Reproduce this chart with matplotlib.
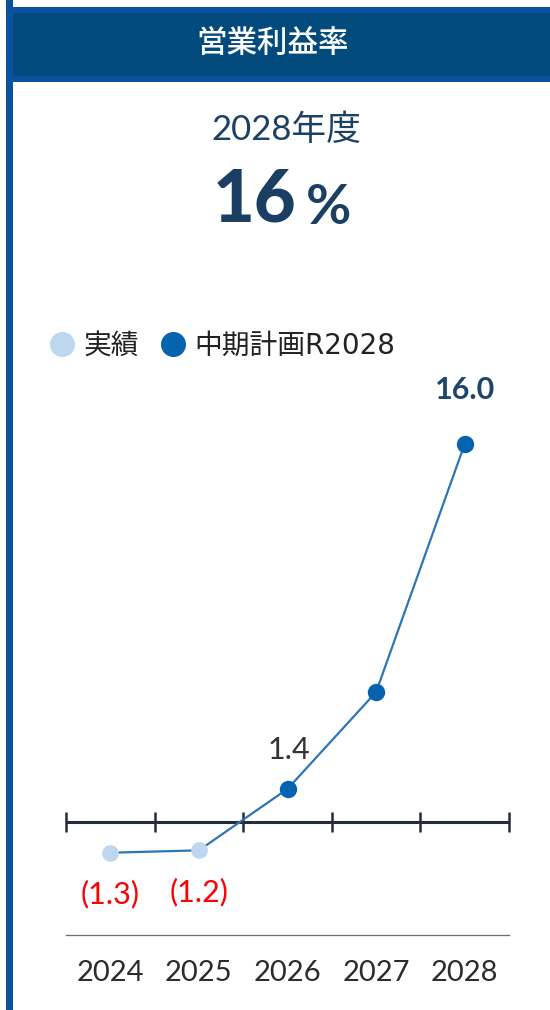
import matplotlib.pyplot as plt
from matplotlib.patches import Rectangle
from matplotlib.lines import Line2D

# 営業利益率 (%) : 実績 / 中期計画R2028
years = ['2024', '2025', '2026', '2027', '2028']
actual_values = [-1.3, -1.2]
plan_values = [1.4, 5.5, 16.0]
values = actual_values + plan_values
point_labels = ['(1.3)', '(1.2)', '1.4', None, '16.0']

W, H = 550, 1010
fig = plt.figure(figsize=(W / 100, H / 100), dpi=100)

num_font = ['Lato', 'Noto Sans CJK JP', 'DejaVu Sans']
jp_font = ['Noto Sans CJK JP', 'DejaVu Sans']
legend_font = ['DejaVu Sans', 'Noto Sans CJK JP']


def fx(px):
    return px / W


def fy(py):
    return 1 - py / H


# card frame: blue left edge + header band
border = '#0a529e'
fig.add_artist(Rectangle((fx(6), fy(1010)), fx(7), 1, color=border, lw=0,
                         transform=fig.transFigure))
fig.add_artist(Rectangle((fx(6), fy(82)), fx(544), fy(7) - fy(82), color=border,
                         lw=0, transform=fig.transFigure))
fig.add_artist(Rectangle((fx(13), fy(76)), fx(537), fy(13) - fy(76), color='#034a7d',
                         lw=0, transform=fig.transFigure))
fig.text(fx(273), fy(44), '営業利益率', color='white', fontsize=22, fontweight='medium',
         family=jp_font, ha='center', va='center')

# headline figure
fig.text(fx(286), fy(130), '2028年度', color='#1d4165', fontsize=25,
         family=num_font, ha='center', va='center')
fig.text(fx(296), fy(201), '16', color='#1b3f63', fontsize=52, fontweight='black',
         family=num_font, ha='right', va='center')
fig.text(fx(306), fy(208), '%', color='#1b3f63', fontsize=40, fontweight='bold',
         family=num_font, ha='left', va='center')

# chart area
ax = fig.add_axes([fx(66), fy(935), fx(509) - fx(66), fy(380) - fy(935)])
ax.set_xlim(-0.5, len(years) - 0.5)
ax.set_ylim(-4.783, 18.709)
for side in ['top', 'right', 'left']:
    ax.spines[side].set_visible(False)
ax.spines['bottom'].set_color('#6b6f75')
ax.spines['bottom'].set_linewidth(0.9)
ax.set_yticks([])
ax.set_xticks(range(len(years)))
ax.set_xticklabels(years, fontsize=21, color='#2b2b2b', family=num_font)
ax.tick_params(axis='x', length=0, pad=18)

# zero axis with category separators
ax.axhline(0, color='#222c3a', lw=2.2, zorder=2)
ax.vlines([i - 0.5 for i in range(len(years) + 1)], -0.42, 0.42,
          color='#222c3a', lw=1.8, zorder=2, clip_on=False)

x_all = list(range(len(values)))
ax.plot(x_all, values, color='#2e75b6', lw=1.6, zorder=3)
n_act = len(actual_values)
ax.plot(x_all[:n_act], actual_values, 'o', color='#bdd7ee', ms=11, zorder=4)
ax.plot(x_all[n_act:], plan_values, 'o', color='#0563b0', ms=11.5, zorder=4)

# value labels
for i, (v, lab) in enumerate(zip(values, point_labels)):
    if lab is None:
        continue
    if v < 0:
        ax.annotate(lab, (i, v), xytext=(0, -30), textcoords='offset points',
                    ha='center', va='center', color='#ff0000', fontsize=22,
                    family=num_font)
    elif i == len(values) - 1:
        ax.annotate(lab, (i, v), xytext=(0, 39), textcoords='offset points',
                    ha='center', va='center', color='#1c4569', fontsize=22,
                    fontweight='bold', family=num_font)
    else:
        ax.annotate(lab, (i, v), xytext=(1, 28), textcoords='offset points',
                    ha='center', va='center', color='#333333', fontsize=22,
                    family=num_font)

# legend
handles = [
    Line2D([], [], marker='o', ls='', color='#bdd7ee', ms=17),
    Line2D([], [], marker='o', ls='', color='#0563b0', ms=17),
]
fig.legend(handles, ['実績', '中期計画R2028'], loc='center left',
           bbox_to_anchor=(fx(49), fy(346)), ncol=2, frameon=False,
           prop={'family': legend_font, 'size': 20}, handlelength=0.95,
           handletextpad=0.3, columnspacing=0.75, borderpad=0, borderaxespad=0,
           labelcolor='#222222')

fig.savefig('out.png', dpi=100)
